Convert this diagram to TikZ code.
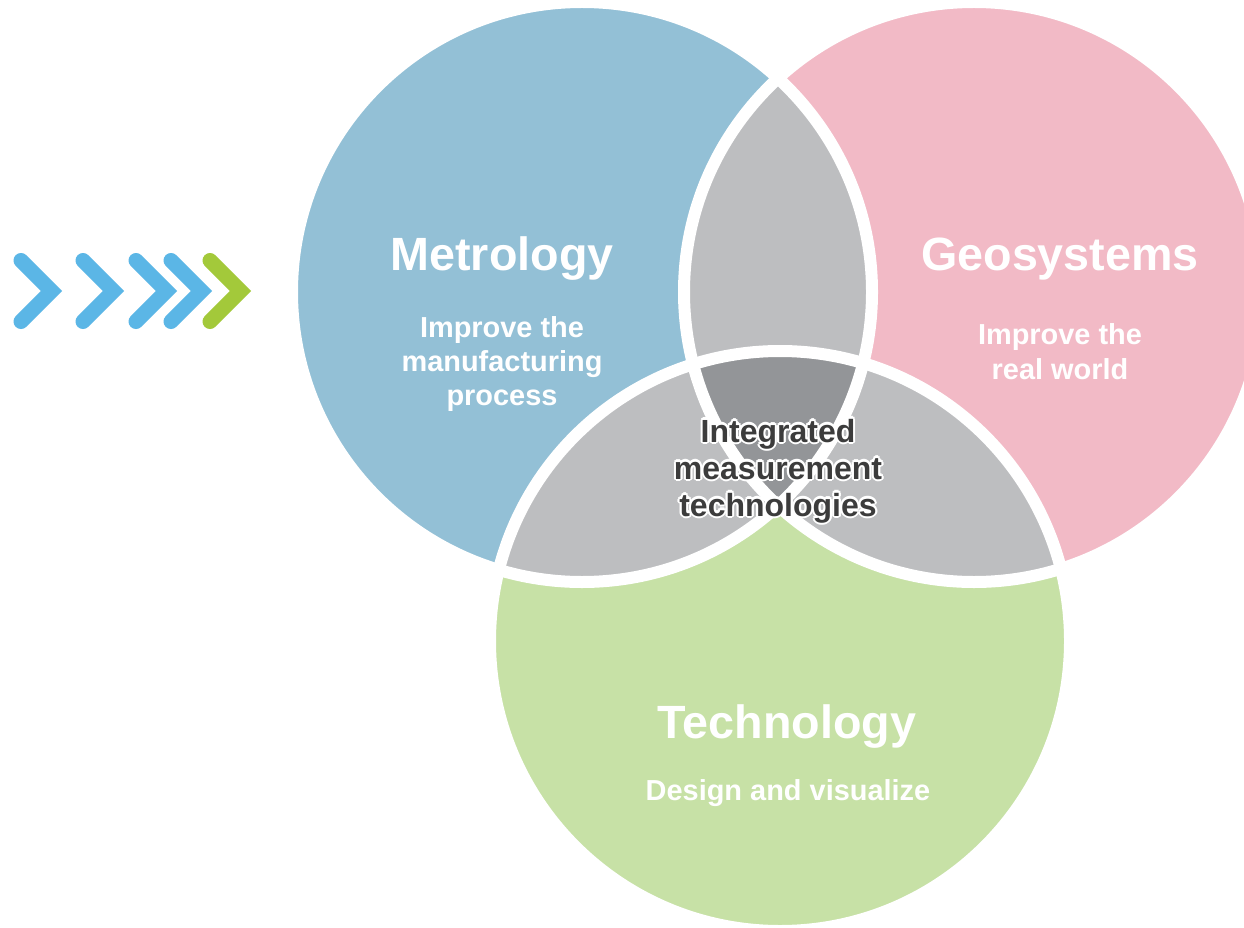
\documentclass[tikz,border=0pt]{standalone}
\usepackage{fontspec}
\setmainfont{Liberation Sans}
\definecolor{metro}{HTML}{93C0D6}
\definecolor{geo}{HTML}{F2BAC6}
\definecolor{tech}{HTML}{C7E1A6}
\definecolor{lgray}{HTML}{BDBEC0}
\definecolor{dgray}{HTML}{939598}
\definecolor{chevblue}{HTML}{5BB6E6}
\definecolor{chevgreen}{HTML}{A3C93A}
\definecolor{darktext}{HTML}{3C3C3C}
\newcommand\gcopy[3]{\rlap{\kern#1\raisebox{#2}{\textcolor{white}{#3}}}}
\newcommand\glowline[1]{\gcopy{1.6pt}{0pt}{#1}\gcopy{-1.6pt}{0pt}{#1}\gcopy{0pt}{1.6pt}{#1}\gcopy{0pt}{-1.6pt}{#1}\gcopy{1.15pt}{1.15pt}{#1}\gcopy{-1.15pt}{1.15pt}{#1}\gcopy{1.15pt}{-1.15pt}{#1}\gcopy{-1.15pt}{-1.15pt}{#1}#1}
\tikzset{
  bigtitle/.style={text=white, font=\fontsize{35}{42}\selectfont\bfseries, anchor=base, inner sep=0pt},
  subtitle/.style={text=white, font=\fontsize{21.7}{26}\selectfont\bfseries, anchor=base, inner sep=0pt},
  centertext/.style={text=darktext, font=\fontsize{24}{29}\selectfont\bfseries, anchor=base, inner sep=0pt},
  chevron/.style={line width=11.25pt, line cap=round, line join=miter},
  whiteedge/.style={draw=white, line width=9pt}
}
\begin{document}
\begin{tikzpicture}[x=0.75pt,y=-0.75pt]
\def\R{217.5pt}
\clip (0,0) rectangle (1244,927);
\fill[white] (0,0) rectangle (1244,927);
\coordinate (cM) at (582,292);
\coordinate (cG) at (974,292);
\coordinate (cT) at (780,641);
% base circles
\fill[metro] (cM) circle[radius=\R];
\fill[geo] (cG) circle[radius=\R];
\fill[tech] (cT) circle[radius=\R];
% pairwise intersections
\begin{scope}
  \clip (cM) circle[radius=\R];
  \fill[lgray] (cG) circle[radius=\R];
  \fill[lgray] (cT) circle[radius=\R];
\end{scope}
\begin{scope}
  \clip (cG) circle[radius=\R];
  \fill[lgray] (cT) circle[radius=\R];
\end{scope}
% triple intersection
\begin{scope}
  \clip (cM) circle[radius=\R];
  \clip (cG) circle[radius=\R];
  \fill[dgray] (cT) circle[radius=\R];
\end{scope}
% white outlines
\draw[whiteedge] (cM) circle[radius=\R];
\draw[whiteedge] (cG) circle[radius=\R];
\draw[whiteedge] (cT) circle[radius=\R];
% chevrons
\foreach \L in {13,75,128,163}{
  \draw[chevron, chevblue] (\L+8,260.5) -- (\L+38.5,291) -- (\L+8,321.5);
}
\draw[chevron, chevgreen] (210,260.5) -- (240.5,291) -- (210,321.5);
% texts
\node[bigtitle] (tM) at (502,270) {Metrology};
\node[subtitle] (sM1) at (502,337) {Improve the};
\node[subtitle] (sM2) at (502,371) {manufacturing};
\node[subtitle] (sM3) at (502,405) {process};
\node[bigtitle] (tG) at (1060,270) {Geosystems};
\node[subtitle] (sG1) at (1060,344) {Improve the};
\node[subtitle] (sG2) at (1060,379) {real world};
\node[bigtitle] (tT) at (787,738) {Technology};
\node[subtitle] (sT1) at (788,800) {Design and visualize};
\node[centertext] (c1) at (778,442) {\glowline{Integrated}};
\node[centertext] (c2) at (778,479) {\glowline{measurement}};
\node[centertext] (c3) at (778,516) {\glowline{technologies}};
\end{tikzpicture}
\end{document}
